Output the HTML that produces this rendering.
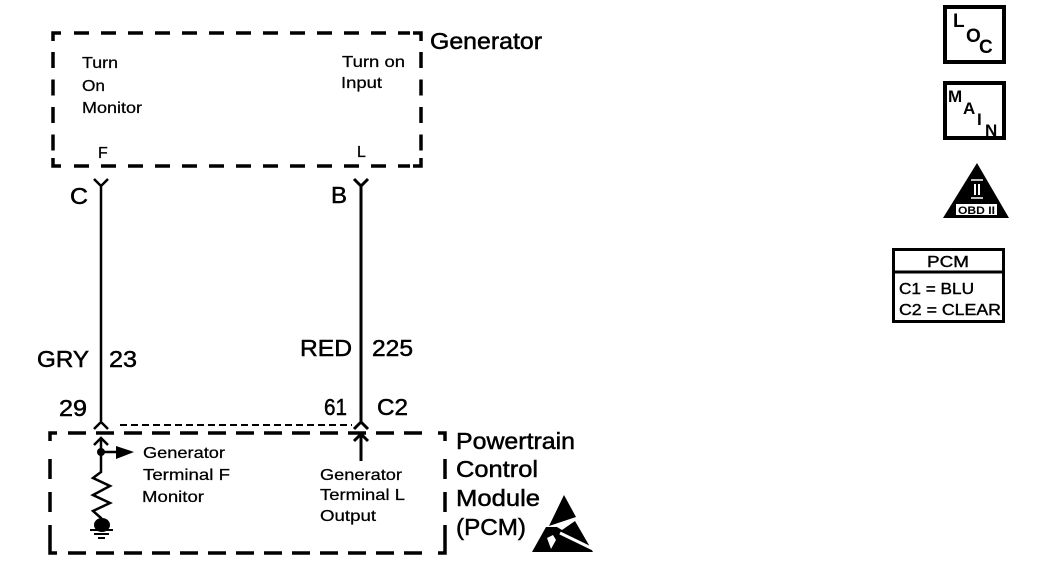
<!DOCTYPE html>
<html><head><meta charset="utf-8"><style>
html,body{margin:0;padding:0;background:#fff}
svg{display:block}
text{font-family:"Liberation Sans",sans-serif;fill:#000}
.s{font-size:16px;stroke:#000;stroke-width:.25px}
.m{font-size:23px;stroke:#000;stroke-width:.5px}
</style></head><body>
<svg width="1056" height="584" viewBox="0 0 1056 584" xmlns="http://www.w3.org/2000/svg">
<g fill="none" stroke="#000" stroke-width="3.500">
<path d="M53 41V33H61M413 33H421V41M53 158V166H61M413 166H421V158"/>
<path d="M74 33H410M74 166H410" stroke-dasharray="15 12"/>
<path d="M53 52V155M421 52V155" stroke-dasharray="16 11.500"/>
<path d="M50 441V433H57M438 433H445V441M50 545V553H57M438 553H445V545"/>
<path d="M68 433H432M68 553H432" stroke-dasharray="18 10"/>
<path d="M50 459V548M445 459V548" stroke-dasharray="20 13"/>
</g>
<text class="m" x="430" y="49" textLength="112" lengthAdjust="spacingAndGlyphs">Generator</text>
<text class="s" x="82" y="68" textLength="36" lengthAdjust="spacingAndGlyphs">Turn</text>
<text class="s" x="82" y="91" textLength="23" lengthAdjust="spacingAndGlyphs">On</text>
<text class="s" x="82" y="113" textLength="60" lengthAdjust="spacingAndGlyphs">Monitor</text>
<text class="s" x="342" y="67" textLength="63" lengthAdjust="spacingAndGlyphs">Turn on</text>
<text class="s" x="341" y="88" textLength="41" lengthAdjust="spacingAndGlyphs">Input</text>
<text class="s" x="98" y="158">F</text>
<text class="s" x="357" y="157">L</text>
<g fill="none" stroke="#000" stroke-width="2.500">
<path d="M101 186V421M94 179L101 186L108 179M94 429L101 422L108 429"/>
<path d="M361 186V421M354 179L361 186L368 179M354 429L361 422L368 429" stroke-width="3"/>
<path d="M120 425H352" stroke-width="2" stroke-dasharray="7 4"/>
<path d="M94 445L101 438L108 445M101 438V460M101 452H118M101 460V472L93 478L110 486L93 495L110 503L93 511L101 518V522"/>
<path d="M354 441L361 434L368 441M361 434V461" stroke-width="3"/>
<path d="M90 530H113M94 534H109M98 538H105" stroke-width="2"/>
</g>
<circle cx="101" cy="452" r="4"/>
<path d="M116 446L134 452L116 459Z"/>
<ellipse cx="102" cy="525" rx="8" ry="7"/>
<text class="m" x="70" y="204" textLength="18" lengthAdjust="spacingAndGlyphs">C</text>
<text class="m" x="331" y="203" textLength="16" lengthAdjust="spacingAndGlyphs">B</text>
<text class="m" x="37" y="367" textLength="52" lengthAdjust="spacingAndGlyphs">GRY</text>
<text class="m" x="109" y="367" textLength="28" lengthAdjust="spacingAndGlyphs">23</text>
<text class="m" x="300" y="356" textLength="52" lengthAdjust="spacingAndGlyphs">RED</text>
<text class="m" x="372" y="356" textLength="41" lengthAdjust="spacingAndGlyphs">225</text>
<text class="m" x="59" y="416" textLength="28" lengthAdjust="spacingAndGlyphs">29</text>
<text class="m" x="324" y="415" textLength="23" lengthAdjust="spacingAndGlyphs">61</text>
<text class="m" x="377" y="415" textLength="31" lengthAdjust="spacingAndGlyphs">C2</text>
<text class="m" x="456" y="449" textLength="119" lengthAdjust="spacingAndGlyphs">Powertrain</text>
<text class="m" x="456" y="477" textLength="82" lengthAdjust="spacingAndGlyphs">Control</text>
<text class="m" x="456" y="506" textLength="84" lengthAdjust="spacingAndGlyphs">Module</text>
<text class="m" x="456" y="535" textLength="70" lengthAdjust="spacingAndGlyphs">(PCM)</text>
<text class="s" x="143" y="458" textLength="82" lengthAdjust="spacingAndGlyphs">Generator</text>
<text class="s" x="143" y="480" textLength="87" lengthAdjust="spacingAndGlyphs">Terminal F</text>
<text class="s" x="142" y="502" textLength="62" lengthAdjust="spacingAndGlyphs">Monitor</text>
<text class="s" x="320" y="480" textLength="82" lengthAdjust="spacingAndGlyphs">Generator</text>
<text class="s" x="320" y="500" textLength="85" lengthAdjust="spacingAndGlyphs">Terminal L</text>
<text class="s" x="320" y="521" textLength="56" lengthAdjust="spacingAndGlyphs">Output</text>
<path d="M564 495L576 517L549 526Z"/>
<path d="M546 527L532 552H593L575 521L562 530L557 527Z"/>
<path d="M560 533L593 549" stroke="#fff" stroke-width="3"/>
<path d="M547 538L553 535L556 540L551 549Z" fill="#fff"/>
<rect x="945" y="7" width="59" height="55" fill="none" stroke="#000" stroke-width="4"/>
<rect x="945" y="83" width="59" height="55" fill="none" stroke="#000" stroke-width="4"/>
<g font-weight="bold">
<text x="953" y="27" font-size="19">L</text>
<text x="966" y="42" font-size="19">O</text>
<text x="979" y="53" font-size="19">C</text>
<text x="948" y="102" font-size="17">M</text>
<text x="963" y="114" font-size="17">A</text>
<text x="977" y="125" font-size="17">I</text>
<text x="985" y="136" font-size="17">N</text>
</g>
<path d="M977 163L1009 218H943Z"/>
<rect x="956" y="204" width="41" height="11" fill="#fff"/>
<text x="958" y="214" font-size="11" font-weight="bold" textLength="37" lengthAdjust="spacingAndGlyphs">OBD II</text>
<path d="M971 180H983M971 198H983" stroke="#fff" stroke-width="1.500"/>
<path d="M975 184V195M979 184V195" stroke="#fff" stroke-width="2"/>
<rect x="893.500" y="249.500" width="110" height="72" fill="none" stroke="#000" stroke-width="3"/>
<path d="M893 272H1004" stroke="#000" stroke-width="3"/>
<text x="927" y="267" font-size="16" stroke="#000" stroke-width=".4" textLength="42" lengthAdjust="spacingAndGlyphs">PCM</text>
<text x="899" y="294" font-size="16" stroke="#000" stroke-width=".4" textLength="75" lengthAdjust="spacingAndGlyphs">C1 = BLU</text>
<text x="899" y="315" font-size="16" stroke="#000" stroke-width=".4" textLength="102" lengthAdjust="spacingAndGlyphs">C2 = CLEAR</text>
</svg>
</body></html>
